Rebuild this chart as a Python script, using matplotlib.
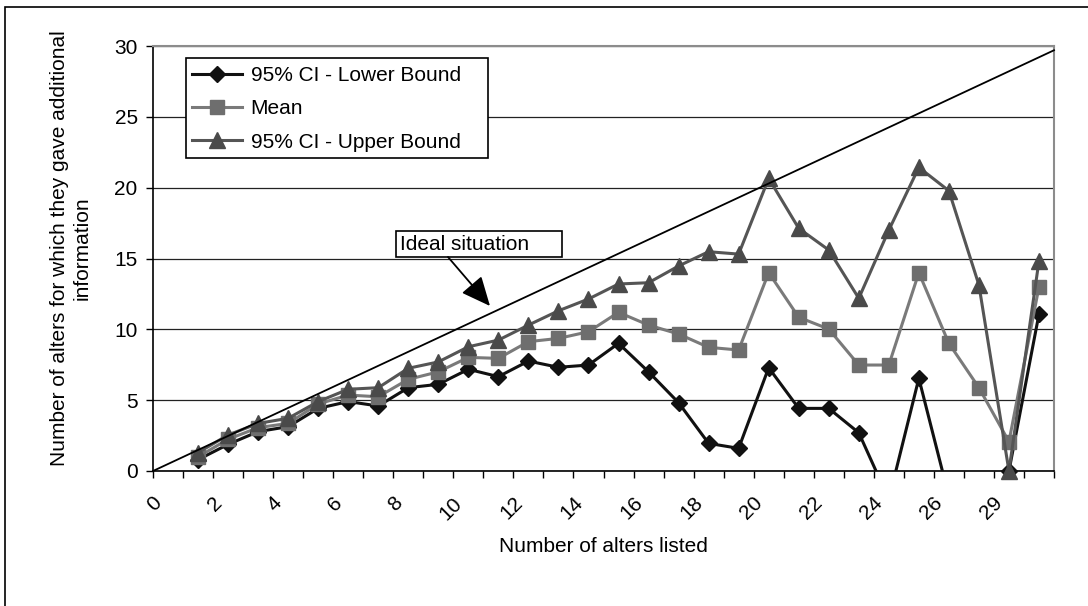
import numpy as np
import matplotlib
matplotlib.use("Agg")
import matplotlib.pyplot as plt
from matplotlib.patches import Rectangle
from matplotlib.transforms import ScaledTranslation

plt.rcParams['font.family'] = ['Liberation Sans', 'DejaVu Sans']

# ---- data ----
categories = ["0", "1", "2", "3", "4", "5", "6", "7", "8", "9", "10", "11", "12", "13",
              "14", "15", "16", "17", "18", "19", "20", "21", "22", "23", "24", "25",
              "26", "27", "29", "30"]
lower_bound = [np.nan, 0.80, 1.88, 2.78, 3.13, 4.42, 4.90, 4.59, 5.88, 6.12, 7.18, 6.66,
               7.76, 7.32, 7.48, 9.01, 7.00, 4.82, 1.95, 1.60, 7.29, 4.42, 4.42, 2.70,
               -2.00, 6.54, -1.80, -1.40, 0.00, 11.08]
mean_vals = [np.nan, 1.00, 2.24, 3.06, 3.36, 4.73, 5.36, 5.24, 6.47, 7.00, 8.02, 7.95,
             9.13, 9.36, 9.83, 11.20, 10.30, 9.67, 8.73, 8.54, 14.00, 10.85, 10.02, 7.48,
             7.48, 14.00, 9.01, 5.88, 2.07, 13.00]
upper_bound = [np.nan, 1.30, 2.54, 3.36, 3.72, 4.90, 5.77, 5.88, 7.25, 7.70, 8.77, 9.24,
               10.30, 11.31, 12.14, 13.20, 13.29, 14.47, 15.48, 15.31, 20.66, 17.13, 15.60,
               12.19, 17.00, 21.43, 19.78, 13.13, 0.00, 14.84]
ideal_x = [0, 30]
ideal_y = [0, 29.7]
yticks = [0, 5, 10, 15, 20, 25, 30]

fig = plt.figure(figsize=(10.88, 6.06), dpi=100)
W, H = 1088, 606
AX_L, AX_R, AX_T, AX_B = 153, 1054, 46, 471
ax = fig.add_axes([AX_L / W, 1 - AX_B / H, (AX_R - AX_L) / W, (AX_B - AX_T) / H])


def ax_frac(px, py):
    return (px - AX_L) / (AX_R - AX_L), (AX_B - py) / (AX_B - AX_T)


x = np.arange(len(categories)) + 0.5

series = [
    (lower_bound, "95% CI - Lower Bound", "D", 8.0, "#111111", "#111111"),
    (mean_vals, "Mean", "s", 10.5, "#6e6e6e", "#7a7a7a"),
    (upper_bound, "95% CI - Upper Bound", "^", 11.0, "#4a4a4a", "#555555"),
]
handles = []
for i, (vals, label, mk, ms, mcol, lcol) in enumerate(series):
    v = np.array(vals, dtype=float)
    ax.plot(x, v, color=lcol, lw=2.2, zorder=3 + i)
    ok = (v >= 0) & (v <= 30)
    ax.plot(x[ok], v[ok], ls="none", marker=mk, ms=ms, mfc=mcol, mec=mcol,
            zorder=3.5 + i, clip_on=False)
    h, = ax.plot([], [], color=lcol, lw=2.2, marker=mk, ms=ms, mfc=mcol, mec=mcol,
                 label=label)
    handles.append(h)

# ideal line
ax.plot(ideal_x, ideal_y, color="black", lw=1.3, zorder=8, clip_on=False)

ax.set_xlim(0, 30)
ax.set_ylim(0, 30)
ax.set_yticks(yticks)
ax.set_yticklabels([str(t) for t in yticks])
ax.yaxis.grid(True, color="#222222", lw=0.9)
ax.set_axisbelow(True)

ax.set_xticks(np.arange(0, 31))
ax.set_xticklabels([])
ax.set_xticks(x[::2], minor=True)
ax.set_xticklabels(categories[::2], minor=True, rotation=45, ha="right",
                   va="center", rotation_mode="anchor", fontsize=15)
ax.tick_params(axis="x", which="major", direction="out", length=5, width=1, color="black")
ax.tick_params(axis="x", which="minor", length=0, pad=21)
ax.tick_params(axis="y", direction="out", length=5, width=1, color="black",
               labelsize=15, pad=6)
off = ScaledTranslation(-9 / 100, 0, fig.dpi_scale_trans)
for lab in ax.get_xticklabels(minor=True):
    lab.set_transform(lab.get_transform() + off)

for s in ["top", "right"]:
    ax.spines[s].set_color("#8c8c8c")
    ax.spines[s].set_linewidth(1.5)
for s in ["left", "bottom"]:
    ax.spines[s].set_color("black")
    ax.spines[s].set_linewidth(1.2)

ax.set_xlabel("Number of alters listed", fontsize=15)
ax.xaxis.set_label_coords(0.5, -0.155)
fig.text(71 / W, 1 - 248 / H,
         "Number of alters for which they gave additional\ninformation",
         rotation=90, ha="center", va="center", multialignment="center", fontsize=15)

# legend box (Excel style, extra right padding)
lx0, ly0 = ax_frac(186, 158)
lx1, ly1 = ax_frac(488, 58)
ax.add_patch(Rectangle((lx0, ly0), lx1 - lx0, ly1 - ly0, transform=ax.transAxes,
                       fc="white", ec="black", lw=1.2, zorder=9, clip_on=False))
leg = ax.legend(handles=handles, loc="upper left",
                bbox_to_anchor=ax_frac(186, 60),
                borderaxespad=0, fontsize=15, frameon=False, handlelength=2.4,
                handletextpad=0.4, labelspacing=0.68, borderpad=0.3)
leg.set_zorder(10)

# "Ideal situation" callout
bx0, by0 = ax_frac(396, 257)
bx1, by1 = ax_frac(562, 231)
ax.add_patch(Rectangle((bx0, by0), bx1 - bx0, by1 - by0, transform=ax.transAxes,
                       fc="white", ec="black", lw=1.2, zorder=9))
ax.text(*ax_frac(400, 244), "Ideal situation", transform=ax.transAxes,
        ha="left", va="center", fontsize=15, zorder=10)
ax.annotate("", xy=ax_frac(490, 306), xycoords="axes fraction",
            xytext=ax_frac(448, 257), textcoords="axes fraction",
            arrowprops=dict(arrowstyle="-|>,head_length=1.0,head_width=0.45",
                            color="black", lw=1.3, mutation_scale=18,
                            shrinkA=0, shrinkB=0), zorder=9)

fig.patches.append(Rectangle((5 / W, -0.1), 2, 1 - 7 / H + 0.1,
                             transform=fig.transFigure, fill=False,
                             ec="black", lw=1.2))

fig.savefig("out.png", dpi=100)
